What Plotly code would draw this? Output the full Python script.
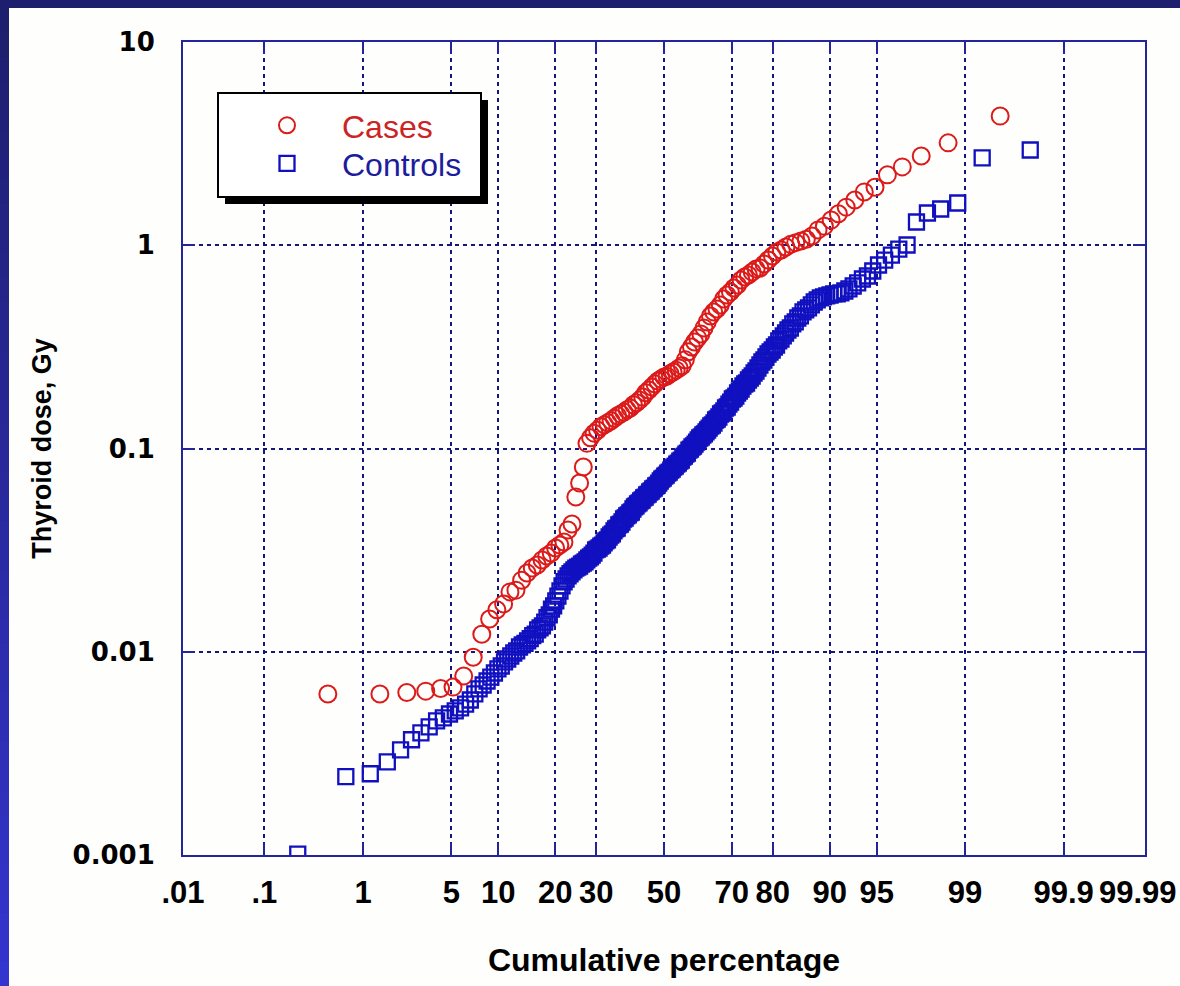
import plotly.graph_objects as go
from statistics import NormalDist

# ---------------- data ----------------
# thyroid doses (Gy), sorted ascending, one value per subject
cases_dose = [
    0.0062, 0.0062, 0.0063, 0.0064, 0.0066, 0.0067, 0.0076, 0.0094, 0.0122, 0.0145,
    0.0161, 0.0172, 0.0197, 0.0201, 0.0225, 0.0244, 0.0258, 0.0267, 0.0283, 0.0296,
    0.0306, 0.0324, 0.0335, 0.0347, 0.0397, 0.0425, 0.0577, 0.0677, 0.0811, 0.106,
    0.113, 0.119, 0.123, 0.128, 0.131, 0.134, 0.137, 0.141, 0.145, 0.148,
    0.151, 0.155, 0.158, 0.164, 0.168, 0.173, 0.179, 0.188, 0.194, 0.201,
    0.208, 0.215, 0.220, 0.225, 0.227, 0.233, 0.238, 0.243, 0.249, 0.255,
    0.273, 0.299, 0.316, 0.334, 0.350, 0.366, 0.392, 0.419, 0.449, 0.470,
    0.486, 0.508, 0.544, 0.569, 0.589, 0.616, 0.637, 0.675, 0.698, 0.714,
    0.739, 0.764, 0.773, 0.809, 0.846, 0.885, 0.926, 0.948, 0.980, 1.01,
    1.03, 1.05, 1.07, 1.11, 1.19, 1.24, 1.33, 1.43, 1.54, 1.67,
    1.83, 1.93, 2.22, 2.43, 2.75, 3.19, 4.32,
]

controls_dose = [
    0.00101, 0.00243, 0.00251, 0.00287, 0.00329, 0.00369, 0.00399, 0.00427, 0.00457, 0.00473,
    0.00494, 0.00512, 0.00530, 0.00553, 0.00579, 0.00620, 0.00656, 0.00686, 0.00718, 0.00751,
    0.00786, 0.00823, 0.00851, 0.00891, 0.00921, 0.00953, 0.00986, 0.0101, 0.01055, 0.0108,
    0.0110, 0.0113, 0.0116, 0.0120, 0.0122, 0.0128, 0.0131, 0.0134, 0.0140, 0.0147,
    0.0152, 0.0162, 0.0168, 0.0178, 0.0188, 0.0199, 0.0211, 0.0221, 0.0228, 0.0236,
    0.0242, 0.0247, 0.0253, 0.0258, 0.0261, 0.0264, 0.0270, 0.0273, 0.0277, 0.0283,
    0.0289, 0.0293, 0.0299, 0.0306, 0.0317, 0.0320, 0.0324, 0.0331, 0.0335, 0.0343,
    0.0351, 0.0355, 0.0367, 0.0375, 0.0380, 0.0393, 0.0402, 0.0406, 0.0421, 0.0425,
    0.0435, 0.0450, 0.0455, 0.0466, 0.0471, 0.0482, 0.0487, 0.0504, 0.0516, 0.0522,
    0.0534, 0.0540, 0.0552, 0.0558, 0.0571, 0.0577, 0.0591, 0.0597, 0.0611, 0.0618,
    0.0632, 0.0639, 0.0654, 0.0661, 0.0676, 0.0692, 0.0707, 0.0715, 0.0732, 0.0740,
    0.0757, 0.0765, 0.0783, 0.0792, 0.0810, 0.0819, 0.0838, 0.0847, 0.0866, 0.0876,
    0.0906, 0.0917, 0.0938, 0.0948, 0.0981, 0.0992, 0.1017, 0.1029, 0.1052, 0.1076,
    0.1101, 0.1126, 0.1139, 0.1165, 0.1179, 0.1206, 0.1233, 0.1261, 0.1290, 0.1305,
    0.1335, 0.1381, 0.1397, 0.1429, 0.1478, 0.1495, 0.1529, 0.1582, 0.1600, 0.1655,
    0.1693, 0.1752, 0.1772, 0.1812, 0.1875, 0.1918, 0.1962, 0.2030, 0.2076, 0.2100,
    0.2173, 0.2223, 0.2273, 0.2352, 0.2406, 0.2489, 0.2575, 0.2665, 0.2726, 0.2820,
    0.2917, 0.2984, 0.3053, 0.3158, 0.3231, 0.3381, 0.3458, 0.3578, 0.3701, 0.3829,
    0.3917, 0.4099, 0.4193, 0.4387, 0.4488, 0.4696, 0.4804, 0.4914, 0.5084, 0.5259,
    0.5380, 0.5503, 0.5566, 0.5629, 0.5693, 0.5758, 0.5770, 0.5824, 0.5957, 0.6094,
    0.6304, 0.6523, 0.6823, 0.7059, 0.7471, 0.7995, 0.8453, 0.8937, 0.9564, 1.003,
    1.301, 1.441, 1.508, 1.614, 2.688, 2.942,
]

x_tick_pct = [0.01, 0.1, 1, 5, 10, 20, 30, 50, 70, 80, 90, 95, 99, 99.9, 99.99]
x_tick_text = [".01", ".1", "1", "5", "10", "20", "30", "50", "70", "80", "90", "95", "99", "99.9", "99.99"]
y_tick_vals = [0.001, 0.01, 0.1, 1, 10]
y_tick_text = ["0.001", "0.01", "0.1", "1", "10"]

# ---------------- helpers ----------------
_nd = NormalDist()


def probit(pct):
    return _nd.inv_cdf(pct / 100.0)


def cum_pct(values):
    # Hazen plotting position of each ranked value, in percent
    n = len(values)
    return [(i + 0.5) / n * 100.0 for i in range(n)]


W, H = 1180, 986
L, R, T, B = 183, 35, 42, 131
PW, PH = W - L - R, H - T - B


def px(xp):
    return (xp - L) / PW


def py(yp):
    return (H - B - yp) / PH


NAVY = "#1e1e6e"
AXIS = "#24249c"
GRID = "#15157a"
RED = "#dc1a1a"
BLUE = "#1010c0"
XFONT = dict(family="Liberation Sans, Arial", size=31, color="black", weight="bold")

fig = go.Figure()
fig.add_trace(go.Scatter(
    x=[probit(p) for p in cum_pct(cases_dose)], y=cases_dose,
    mode="markers", name='<span style="color:#cc2424">Cases</span>', legend="legend",
    marker=dict(symbol="circle-open", size=17, color=RED, line=dict(width=2, color=RED)),
))
fig.add_trace(go.Scatter(
    x=[probit(p) for p in cum_pct(controls_dose)], y=controls_dose,
    mode="markers", name='<span style="color:#1c1c9c">Controls</span>', legend="legend2",
    marker=dict(symbol="square-open", size=15, color=BLUE, line=dict(width=2.3, color=BLUE)),
))

shapes = []
# white page area
shapes.append(dict(type="rect", xref="paper", yref="paper", layer="below",
                   x0=px(9), x1=px(W + 5), y0=py(H + 5), y1=py(8),
                   fillcolor="#fefefc", line=dict(width=0)))
# left blue strip with vertical gradient
N = 40
c0, c1 = (30, 30, 110), (52, 52, 206)
for k in range(N):
    t = k / (N - 1)
    col = "rgb(%d,%d,%d)" % tuple(round(a + (b - a) * t) for a, b in zip(c0, c1))
    shapes.append(dict(type="rect", xref="paper", yref="paper", layer="below",
                       x0=px(-2), x1=px(9), y0=py(8 + (H - 8) * (k + 1) / N + 1),
                       y1=py(8 + (H - 8) * k / N),
                       fillcolor=col, line=dict(width=0)))
# legend box with drop shadow
shapes.append(dict(type="rect", xref="paper", yref="paper", layer="above",
                   x0=px(225), x1=px(488), y0=py(204), y1=py(100),
                   fillcolor="black", line=dict(width=0)))
shapes.append(dict(type="rect", xref="paper", yref="paper", layer="above",
                   x0=px(218), x1=px(481), y0=py(197), y1=py(93),
                   fillcolor="white", line=dict(width=2, color="black")))

axis_common = dict(
    showline=True, linecolor=AXIS, linewidth=2, mirror="ticks",
    ticks="inside", ticklen=12, tickwidth=2, tickcolor=AXIS,
    showgrid=True, gridcolor=GRID, gridwidth=2, griddash="4px,4px",
    zeroline=False, automargin=False,
)

legend_common = dict(xanchor="left", yanchor="top", bgcolor="rgba(0,0,0,0)",
                     borderwidth=0, itemwidth=100,
                     font=dict(family="Liberation Sans, Arial", size=32, color="black"))

# the last x tick label sits at the page edge: draw it as an annotation kept inside the page
x_tick_text_axis = x_tick_text[:-1] + [""]

fig.update_layout(
    width=W, height=H,
    margin=dict(l=L, r=R, t=T, b=B, pad=0),
    paper_bgcolor=NAVY, plot_bgcolor="#fefefc",
    shapes=shapes,
    showlegend=True,
    legend=dict(x=px(232), y=py(98), **legend_common),
    legend2=dict(x=px(232), y=py(136), **legend_common),
    annotations=[dict(text=x_tick_text[-1], xref="paper", yref="paper",
                      x=px(1179), y=py(892), xanchor="right", yanchor="middle",
                      showarrow=False, font=XFONT)],
    xaxis=dict(
        range=[probit(0.01), probit(99.99)],
        tickmode="array", tickvals=[probit(p) for p in x_tick_pct], ticktext=x_tick_text_axis,
        tickfont=XFONT,
        ticklabelstandoff=9,
        title=dict(text="Cumulative percentage", standoff=39,
                   font=dict(family="Liberation Sans, Arial", size=32, color="black", weight="bold")),
        **axis_common,
    ),
    yaxis=dict(
        type="log", range=[-3, 1],
        tickmode="array", tickvals=y_tick_vals, ticktext=y_tick_text,
        tickfont=dict(family="DejaVu Sans", size=26, color="black", weight="bold"),
        ticklabelstandoff=21,
        title=dict(text="Thyroid dose, Gy", standoff=13,
                   font=dict(family="Liberation Sans, Arial", size=27, color="black", weight="bold")),
        **axis_common,
    ),
)

fig.write_html("out.html", config={"displayModeBar": False})

# remove the browser's default page margin so the figure fills the window exactly
with open("out.html", "r", encoding="utf-8") as f:
    html = f.read()
html = html.replace("<body>", '<body style="margin:0;padding:0;overflow:hidden;">', 1)
with open("out.html", "w", encoding="utf-8") as f:
    f.write(html)
